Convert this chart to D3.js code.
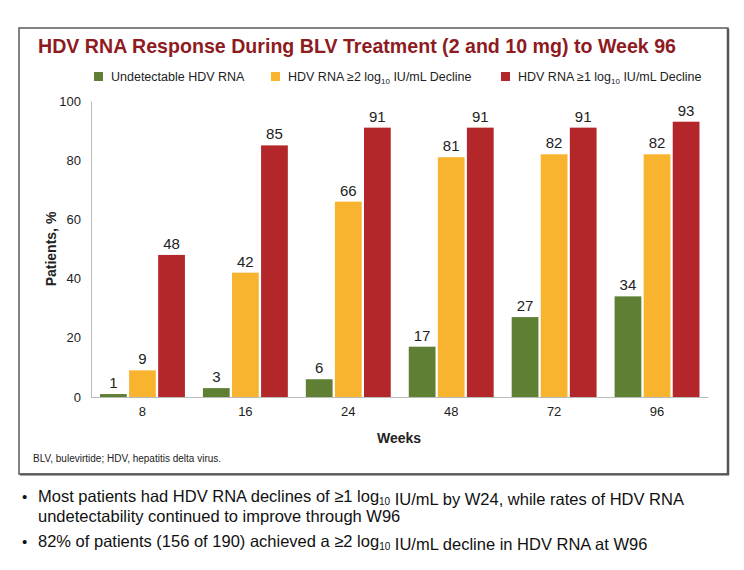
<!DOCTYPE html>
<html><head><meta charset="utf-8">
<script src="https://cdn.jsdelivr.net/npm/d3@7"></script>
<style>
body{margin:0;background:#fff;}
svg{display:block;font-family:"Liberation Sans Narrow","Arial Narrow","Liberation Sans",Arial,sans-serif;}
</style></head>
<body><svg id="c" width="744" height="570"></svg>
<script>
const weeks = ["8","16","24","48","72","96"];
const seriesNames = ["Undetectable HDV RNA","HDV RNA ≥2 log10 IU/mL Decline","HDV RNA ≥1 log10 IU/mL Decline"];
const undetectable = [1,3,6,17,27,34];
const decline2 = [9,42,66,81,82,82];
const decline1 = [48,85,91,91,91,93];
const yTicks = [0,20,40,60,80,100];
const colors = ["#5F7F35","#F8B42E","#B3262A"];
const series = [undetectable, decline2, decline1];

const svg = d3.select("#c");
// frame
svg.append("rect").attr("x",19).attr("y",28).attr("width",709).attr("height",446)
  .attr("fill","#fff").attr("stroke","#5a5a5a").attr("stroke-width",1.5);
svg.append("line").attr("x1",728).attr("x2",728).attr("y1",29).attr("y2",475).attr("stroke","#555").attr("stroke-width",2.5);
svg.append("line").attr("x1",20).attr("x2",729).attr("y1",474.5).attr("y2",474.5).attr("stroke","#555").attr("stroke-width",2);

// title
svg.append("text").attr("x",38).attr("y",53).attr("fill","#8E1B1F")
  .attr("font-size",21).attr("font-weight","bold").attr("textLength",638).attr("lengthAdjust","spacingAndGlyphs")
  .text("HDV RNA Response During BLV Treatment (2 and 10 mg) to Week 96");

// legend
const legX = [94,271,501];
seriesNames.forEach((n,i)=>{
  svg.append("rect").attr("x",legX[i]).attr("y",72).attr("width",9).attr("height",9).attr("fill",colors[i]);
  const t = svg.append("text").attr("x",legX[i]+17).attr("y",81).attr("font-size",12.5).attr("fill","#222");
  const m = n.match(/^(.*log)(10)(.*)$/);
  if(m){
    t.append("tspan").text(m[1]);
    t.append("tspan").attr("font-size",8).attr("dy",3).text(m[2]);
    t.append("tspan").attr("dy",-3).text(m[3]);
  } else t.text(n);
});

const x0 = d3.scaleBand().domain(weeks).range([91,708.5]).paddingInner(0.175).paddingOuter(0.0875);
const x1 = d3.scaleBand().domain([0,1,2]).range([0,x0.bandwidth()]).paddingInner(0.08);
const y = d3.scaleLinear().domain([0,100]).range([397,101]);

// axes
const ya = svg.append("g").attr("transform","translate(91,0)")
  .call(d3.axisLeft(y).tickValues(yTicks).tickSize(0).tickPadding(10));
ya.select(".domain").attr("stroke","#bbb");
ya.selectAll("text").attr("font-size",13).attr("fill","#222").attr("font-family","inherit");
const xa = svg.append("g").attr("transform","translate(0,397)")
  .call(d3.axisBottom(x0).tickSize(0).tickPadding(10));
xa.select(".domain").attr("stroke","#bbb").attr("d","M91,0.5H708.5");
xa.selectAll("text").attr("font-size",13).attr("fill","#222").attr("font-family","inherit");

// bars
series.forEach((s,i)=>{
  const g = svg.append("g");
  g.selectAll("rect").data(s).join("rect")
    .attr("x",(d,j)=>x0(weeks[j])+x1(i)).attr("width",x1.bandwidth())
    .attr("y",d=>y(d)).attr("height",d=>y(0)-y(d)).attr("fill",colors[i]);
  g.selectAll("text").data(s).join("text")
    .attr("x",(d,j)=>x0(weeks[j])+x1(i)+x1.bandwidth()/2).attr("y",d=>y(d)-6)
    .attr("text-anchor","middle").attr("font-size",15).attr("fill","#222").text(d=>d);
});

// axis titles
svg.append("text").attr("transform","translate(56,249) rotate(-90)").attr("text-anchor","middle")
  .attr("font-size",14).attr("font-weight","bold").attr("fill","#222").text("Patients, %");
svg.append("text").attr("x",399).attr("y",443).attr("text-anchor","middle")
  .attr("font-size",14).attr("font-weight","bold").attr("fill","#222").text("Weeks");
svg.append("text").attr("x",33).attr("y",462).attr("font-size",10).attr("fill","#222")
  .text("BLV, bulevirtide; HDV, hepatitis delta virus.");

// bullets
function sub(t, parts){
  parts.forEach(p=>{
    if(p.s){ t.append("tspan").attr("font-size",10).attr("dy",2.5).text(p.s); t.append("tspan").attr("dy",-2.5).text(""); }
    else t.append("tspan").text(p.t);
  });
}
const b1 = svg.append("text").attr("x",38).attr("y",502).attr("font-size",16.5).attr("fill","#111");
sub(b1,[{t:"Most patients had HDV RNA declines of ≥1 log"},{s:"10"},{t:" IU/mL by W24, while rates of HDV RNA"}]);
svg.append("text").attr("x",38).attr("y",522).attr("font-size",16.5).attr("fill","#111")
  .text("undetectability continued to improve through W96");
const b3 = svg.append("text").attr("x",38).attr("y",547).attr("font-size",16.5).attr("fill","#111");
sub(b3,[{t:"82% of patients (156 of 190) achieved a ≥2 log"},{s:"10"},{t:" IU/mL decline in HDV RNA at W96"}]);
[502,547].forEach(yy=>svg.append("text").attr("x",22).attr("y",yy).attr("font-size",15).attr("fill","#111").text("•"));
</script></body></html>
